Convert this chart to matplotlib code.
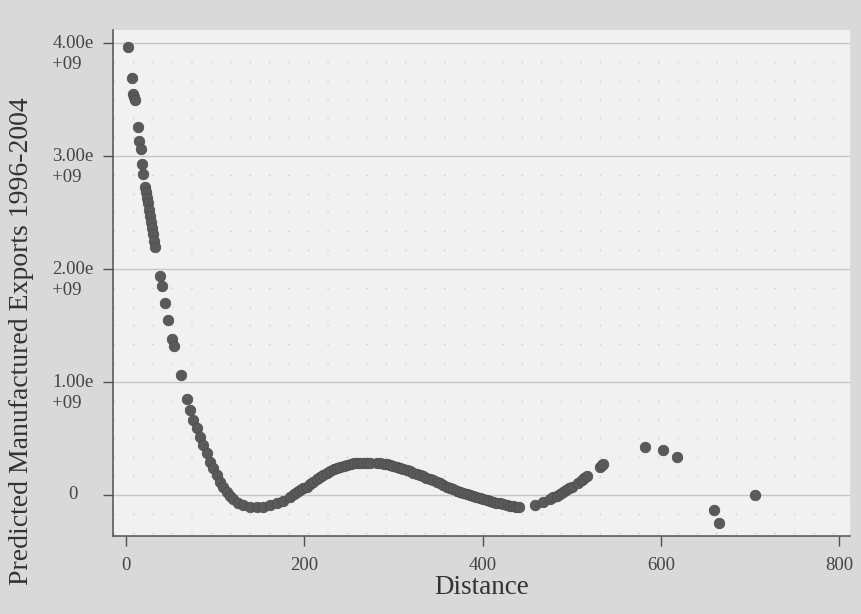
import matplotlib
matplotlib.use('Agg')
import matplotlib.pyplot as plt
from matplotlib.ticker import MultipleLocator
from matplotlib.transforms import offset_copy

plt.rcParams['font.family'] = ['Liberation Serif', 'DejaVu Serif']

# distance values and predicted exports (in 1e9)
distance = [2.6, 6.4, 8.2, 8.9, 10.1, 13.1, 14.6, 16.8, 18.3, 19.4,
            21.3, 22.4, 23.5, 24.6, 25.8, 26.9, 28.0, 29.2, 30.3, 31.4, 32.5,
            38.1, 40.0, 43.7, 47.4, 51.4, 53.8, 61.4,
            68.1, 71.8, 75.5, 79.3, 83.0, 86.7, 90.5, 94.2, 97.9, 101.7,
            105.4, 109.1, 113.0, 116.7, 120.4, 126.0, 131.6, 139.1, 146.6,
            154.0, 161.5, 169.0, 176.4, 184.0, 188.0, 191.5, 195.0, 199.0,
            202.7, 206.5, 210.0, 214.0, 217.5, 221.3, 225.0, 229.0, 233.0,
            236.5, 240.0, 244.0, 248.0, 252.0, 255.5, 258.8, 262.5, 266.0,
            270.0, 273.7, 281.2, 285.0, 289.0, 292.5, 296.1, 300.0, 304.0,
            307.5, 311.0, 314.9, 318.5, 322.0, 326.0, 330.0, 333.5, 337.0,
            341.0, 344.7, 348.5, 352.0, 355.9, 359.5, 363.5, 367.1, 371.0,
            374.5, 378.0, 382.0, 385.9, 389.5, 393.0, 397.0, 400.5, 404.6,
            408.0, 412.0, 415.5, 419.0, 423.2, 427.0, 430.5, 434.0, 437.5,
            440.5,
            458.8, 468.1, 476.0, 479.3, 483.0, 487.0, 490.5, 494.0, 497.0,
            500.0, 507.0, 511.2, 514.0, 516.8, 531.7, 533.5, 535.4,
            582.0, 602.7, 617.7, 660.0, 665.5, 706.0]
exports = [3.962, 3.693, 3.549, 3.52, 3.496, 3.259, 3.135, 3.059, 2.929, 2.838,
           2.727, 2.68, 2.63, 2.58, 2.52, 2.47, 2.42, 2.36, 2.31, 2.25, 2.196,
           1.941, 1.850, 1.702, 1.549, 1.381, 1.321, 1.062,
           0.847, 0.752, 0.664, 0.590, 0.516, 0.442, 0.369, 0.295, 0.236, 0.177,
           0.118, 0.073, 0.029, -0.009, -0.038, -0.068, -0.088, -0.104, -0.109,
           -0.104, -0.091, -0.073, -0.050, -0.015, 0.005, 0.029, 0.045, 0.060,
           0.073, 0.095, 0.117, 0.140, 0.158, 0.177, 0.195, 0.212, 0.228,
           0.240, 0.250, 0.260, 0.268, 0.275, 0.279, 0.281, 0.284, 0.286,
           0.287, 0.286, 0.286, 0.283, 0.278, 0.272, 0.265, 0.257, 0.248,
           0.240, 0.231, 0.221, 0.208, 0.196, 0.184, 0.178, 0.165, 0.150,
           0.140, 0.133, 0.118, 0.103, 0.088, 0.075, 0.062, 0.050, 0.039,
           0.028, 0.018, 0.009, 0.000, -0.009, -0.018, -0.027, -0.036, -0.044,
           -0.052, -0.060, -0.068, -0.075, -0.082, -0.089, -0.094, -0.099, -0.102,
           -0.104,
           -0.088, -0.059, -0.035, -0.020, -0.005, 0.012, 0.029, 0.045, 0.058,
           0.073, 0.108, 0.133, 0.150, 0.168, 0.250, 0.262, 0.274,
           0.422, 0.401, 0.339, -0.133, -0.251, 0.003]

x_ticks = [0, 200, 400, 600, 800]
y_ticks = [0, 1e9, 2e9, 3e9, 4e9]
y_tick_labels = ['0', '1.00e\n+09', '2.00e\n+09', '3.00e\n+09', '4.00e\n+09']

fig = plt.figure(figsize=(8.62, 6.14), dpi=100, facecolor='#d9d9d9')
ax = fig.add_axes([113 / 862, 1 - 536 / 614, 737 / 862, 506 / 614])
ax.set_facecolor('#f1f1f1')

ax.scatter(distance, [v * 1e9 for v in exports], s=58, color='#5a5a5a',
           edgecolors='#4a4a4a', linewidths=0.5, zorder=3)

ax.set_xlim(-14.6, 812)
ax.set_ylim(-0.363e9, 4.115e9)

# gridlines: solid at major y ticks, faint dotted texture in between
ax.set_yticks(y_ticks)
ax.yaxis.set_minor_locator(MultipleLocator(1e9 / 6))
ax.grid(axis='y', which='major', color='#c6c6c6', lw=1.0)
ax.grid(axis='y', which='minor', color='#cdcdcd', lw=1.0, linestyle=(0, (1, 13)))
ax.set_axisbelow(True)

for side in ['top', 'right']:
    ax.spines[side].set_visible(False)
for side in ['left', 'bottom']:
    ax.spines[side].set_color('#505050')
    ax.spines[side].set_linewidth(1.1)

ax.set_xticks(x_ticks)
ax.tick_params(axis='x', which='major', length=7, width=1, color='#505050',
               labelsize=13.5, labelcolor='#444444', pad=8)
ax.tick_params(axis='y', which='major', length=7, width=1, color='#505050',
               labelleft=False)
ax.tick_params(axis='y', which='minor', length=0)

# y tick labels drawn as text so the two-line form sits like the original
tr = offset_copy(ax.get_yaxis_transform(), fig=fig, x=-40, y=0, units='dots')
for val, lab in zip(y_ticks, y_tick_labels):
    if '\n' in lab:
        ax.text(0, val, lab, transform=offset_copy(tr, fig=fig, x=0, y=-11, units='dots'),
                ha='center', va='center', multialignment='left',
                fontsize=13.5, color='#444444', linespacing=1.25)
    else:
        ax.text(0, val, lab, transform=tr, ha='center', va='center',
                fontsize=13.5, color='#444444')

ax.set_xlabel('Distance', fontsize=19.5, color='#333333', labelpad=1)
fig.text(22 / 862, 1 - 341 / 614, 'Predicted Manufactured Exports 1996-2004',
         rotation=90, ha='center', va='center', fontsize=20, color='#333333')

plt.savefig('out.png', dpi=100, facecolor=fig.get_facecolor())
